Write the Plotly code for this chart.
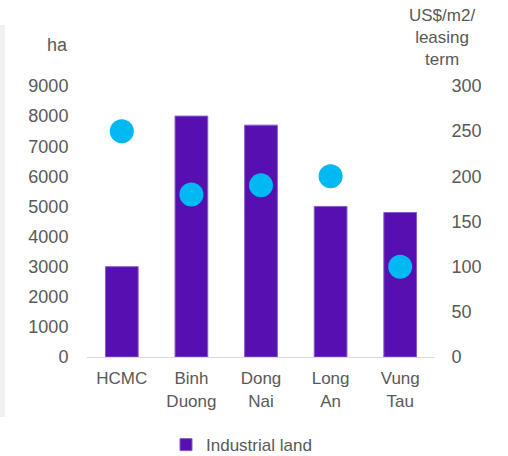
import plotly.graph_objects as go

# Industrial land supply (ha) and average rent (US$/m2/leasing term) by province
provinces = ["HCMC", "Binh<br>Duong", "Dong<br>Nai", "Long<br>An", "Vung<br>Tau"]
land_ha = [3000, 8000, 7700, 5000, 4800]
rent_usd = [250, 180, 190, 200, 100]

left_ticks = [0, 1000, 2000, 3000, 4000, 5000, 6000, 7000, 8000, 9000]
right_ticks = [0, 50, 100, 150, 200, 250, 300]

PURPLE = "#560fb0"
CYAN = "#00b9f2"
TEXT = "#595959"
FONT = "Liberation Sans, Arial, sans-serif"

fig = go.Figure()
fig.add_trace(go.Bar(
    x=provinces, y=land_ha, name="Industrial land",
    marker=dict(color=PURPLE, line=dict(color="#8a5ccc", width=1)),
    width=0.47, yaxis="y",
))
fig.add_trace(go.Scatter(
    x=provinces, y=rent_usd, mode="markers", name="Rent",
    marker=dict(color=CYAN, size=24), yaxis="y2", showlegend=False,
))

fig.update_layout(
    width=508, height=456,
    margin=dict(l=87, r=73, t=86, b=99, autoexpand=False),
    paper_bgcolor="white", plot_bgcolor="white",
    font=dict(family=FONT, size=17, color=TEXT),
    showlegend=True,
    legend=dict(orientation="h", x=(166 - 87) / 348, xanchor="left", y=-0.325, yanchor="middle",
                font=dict(size=17, color=TEXT), itemwidth=30,
                bgcolor="rgba(0,0,0,0)"),
    xaxis=dict(showgrid=False, showline=True, linecolor="#d9d9d9", linewidth=1,
               ticks="outside", ticklen=6, tickcolor="rgba(0,0,0,0)",
               tickfont=dict(size=17, color=TEXT), zeroline=False, automargin=False),
    yaxis=dict(range=[0, 9000], tickvals=left_ticks, showgrid=False, zeroline=False,
               showline=False, ticks="outside", ticklen=14, tickcolor="rgba(0,0,0,0)",
               tickfont=dict(size=18, color=TEXT), automargin=False),
    yaxis2=dict(range=[0, 300], tickvals=right_ticks, overlaying="y", side="right",
                showgrid=False, zeroline=False, showline=False, ticks="outside",
                ticklen=12, tickcolor="rgba(0,0,0,0)",
                tickfont=dict(size=18, color=TEXT), automargin=False),
    shapes=[dict(type="rect", xref="paper", yref="paper",
                 x0=-87 / 348, x1=-82 / 348, y0=(357 - 417) / 271, y1=(357 - 25) / 271,
                 fillcolor="#f0f0f0", line=dict(width=0), layer="below")],
    annotations=[
        dict(text="ha", xref="paper", yref="paper", x=-30 / 348, y=(357 - 45) / 271,
             showarrow=False, font=dict(size=18, color=TEXT), xanchor="center", yanchor="middle"),
        dict(text="US$/m2/<br>leasing<br>term", xref="paper", yref="paper",
             x=(442 - 87) / 348, y=(357 - 38) / 271, showarrow=False,
             font=dict(size=17, color=TEXT), xanchor="center", yanchor="middle"),
    ],
)

fig.write_html("out.html")
